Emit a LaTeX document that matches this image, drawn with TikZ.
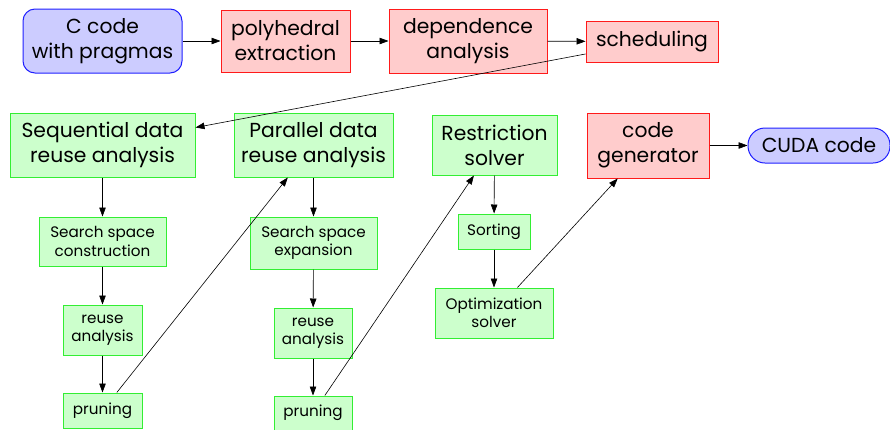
\documentclass[tikz,border=0pt]{standalone}
\usepackage{fontspec}
\setmainfont{Poppins}
\usetikzlibrary{arrows.meta}

\definecolor{bluefill}{HTML}{CCCCFF}
\definecolor{blueline}{HTML}{2020FF}
\definecolor{redfill}{HTML}{FFCCCC}
\definecolor{redline}{HTML}{FF1A1A}
\definecolor{greenfill}{HTML}{CCFFCC}
\definecolor{greenline}{HTML}{33EE33}

\tikzset{
  box/.style={draw, line width=1pt, inner sep=0pt, align=center, anchor=center},
  bigtext/.style={font=\fontsize{20.3}{25}\selectfont},
  smalltext/.style={font=\fontsize{15.2}{18.5}\selectfont},
  terminal/.style={box, bigtext, fill=bluefill, draw=blueline},
  redbox/.style={box, bigtext, fill=redfill, draw=redline},
  greenbig/.style={box, bigtext, fill=greenfill, draw=greenline},
  greensmall/.style={box, smalltext, fill=greenfill, draw=greenline},
  flow/.style={-{Triangle[length=9pt,width=6.5pt]}, line width=0.6pt, black},
}

\begin{document}
\begin{tikzpicture}[x=1pt,y=-1pt]
\useasboundingbox (0,0) rectangle (890,429);

% front end
\node[terminal, rounded corners=12pt, minimum width=159pt, minimum height=64pt] (ccode) at (102.5,41) {C code\\with pragmas};
\node[redbox, minimum width=129pt, minimum height=62pt] (poly) at (285.5,41) {polyhedral\\extraction};
\node[redbox, minimum width=158pt, minimum height=64pt] (dep) at (468,41) {dependence\\analysis};
\node[redbox, minimum width=132pt, minimum height=41pt] (sched) at (652,41.5) {scheduling};

% data reuse analyses
\node[greenbig, minimum width=185pt, minimum height=64pt] (seq) at (102.5,145) {Sequential data\\reuse analysis};
\node[greenbig, minimum width=159pt, minimum height=64pt] (par) at (313.5,145) {Parallel data\\reuse analysis};
\node[greenbig, minimum width=125pt, minimum height=60pt] (restr) at (494.5,145) {Restriction\\solver};
\node[redbox, minimum width=122pt, minimum height=65pt] (codegen) at (648,145.5) {code\\generator};
\node[terminal, rounded corners=17pt, minimum width=142pt, minimum height=35pt] (cuda) at (819,145.5) {CUDA code};

% sequential chain
\node[greensmall, minimum width=127pt, minimum height=49pt] (sconstr) at (102.5,241.5) {Search space\\construction};
\node[greensmall, minimum width=79pt, minimum height=50pt] (sreuse) at (102.5,330) {reuse\\analysis};
\node[greensmall, minimum width=79pt, minimum height=35pt] (sprune) at (102.5,410.5) {pruning};

% parallel chain
\node[greensmall, minimum width=127pt, minimum height=52pt] (pexp) at (313.5,243) {Search space\\expansion};
\node[greensmall, minimum width=78pt, minimum height=50pt] (preuse) at (313,333) {reuse\\analysis};
\node[greensmall, minimum width=78pt, minimum height=34pt] (pprune) at (313,413) {pruning};

% restriction chain
\node[greensmall, minimum width=72pt, minimum height=35pt] (sort) at (494,231.5) {Sorting};
\node[greensmall, minimum width=118pt, minimum height=50pt] (opt) at (494,313) {Optimization\\solver};

% connectors
\draw[flow] (ccode) -- (poly);
\draw[flow] (poly) -- (dep);
\draw[flow] (dep) -- (sched);
\draw[flow] (sched) -- (seq);
\draw[flow] (seq) -- (sconstr);
\draw[flow] (sconstr) -- (sreuse);
\draw[flow] (sreuse) -- (sprune);
\draw[flow] (sprune) -- (par);
\draw[flow] (par) -- (pexp);
\draw[flow] (pexp) -- (preuse);
\draw[flow] (preuse) -- (pprune);
\draw[flow] (pprune) -- (restr);
\draw[flow] (restr) -- (sort);
\draw[flow] (sort) -- (opt);
\draw[flow] (opt) -- (codegen);
\draw[flow] (codegen) -- (cuda);
\end{tikzpicture}
\end{document}
